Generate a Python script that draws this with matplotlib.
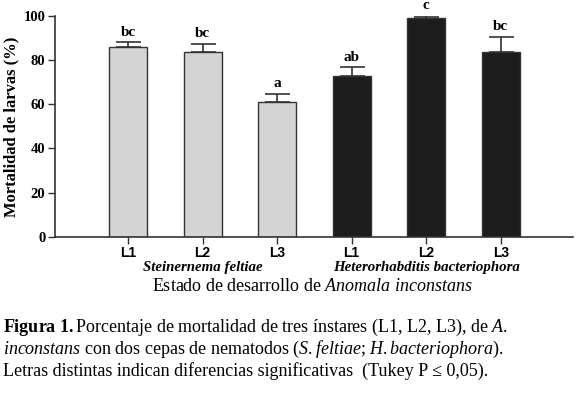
import matplotlib
matplotlib.use("Agg")
import matplotlib.pyplot as plt

plt.rcParams['mathtext.fontset'] = 'custom'
plt.rcParams['mathtext.rm'] = 'Liberation Serif'
plt.rcParams['mathtext.it'] = 'Liberation Serif:italic'
plt.rcParams['mathtext.bf'] = 'Liberation Serif:bold'

stages = ['L1', 'L2', 'L3', 'L1', 'L2', 'L3']
mortality = [86, 83.5, 61, 72.8, 99, 83.5]
errors = [2, 4, 3.7, 4, 1, 7]
letters = ['bc', 'bc', 'a', 'ab', 'c', 'bc']
colors = ['#d4d4d4'] * 3 + ['#1c1c1c'] * 3
groups = ['Steinernema feltiae', 'Heterorhabditis bacteriophora']

fig = plt.figure(figsize=(5.8, 3.95), dpi=100)
ax = fig.add_axes([55 / 580, (395 - 236.7) / 395, (573 - 55) / 580, 220.7 / 395])

x = range(1, 7)
ax.bar(x, mortality, width=0.51, color=colors, edgecolor='#333333', linewidth=1)
ax.errorbar(x, mortality, yerr=[[0] * 6, errors], fmt='none', ecolor='#333333',
            elinewidth=1.2, capsize=9, capthick=1.2)
for xi, m, e, l in zip(x, mortality, errors, letters):
    ax.text(xi, m + e + 3, l, ha='center', va='baseline', fontsize=11,
            fontweight='bold', family='Liberation Serif', clip_on=False)

ax.set_xlim(0.02, 6.97)
ax.set_ylim(0, 100)
ax.set_yticks([0, 20, 40, 60, 80, 100])
ax.set_xticks(list(x))
ax.set_xticklabels(stages, family='Liberation Sans', fontweight='bold', fontsize=10)
for t in ax.get_yticklabels():
    t.set_family('Liberation Serif')
    t.set_fontweight('bold')
    t.set_fontsize(10.5)
ax.tick_params(axis='both', length=5, width=1, color='#333333', pad=2)
for s in ['top', 'right']:
    ax.spines[s].set_visible(False)
for s in ['left', 'bottom']:
    ax.spines[s].set_color('#333333')
    ax.spines[s].set_linewidth(1.2)

ax.set_ylabel('Mortalidad de larvas (%)', family='Liberation Serif',
              fontweight='bold', fontsize=12, labelpad=3)

ax.text(2, -14, groups[0], ha='center', va='center', fontsize=10.7,
        family='Liberation Serif', fontweight='bold', style='italic')
ax.text(5, -14, groups[1], ha='center', va='center', fontsize=10.7,
        family='Liberation Serif', fontweight='bold', style='italic')
ax.text(3.48, -22.5, r'Estado de desarrollo de $\mathit{Anomala}$ $\mathit{inconstans}$',
        ha='center', va='center', fontsize=13, family='Liberation Serif')

caption = ("$\\mathbf{Figura}$ $\\mathbf{1.}$Porcentaje de mortalidad de tres ínstares (L1, L2, L3), de $\\mathit{A.}$\n"
           "$\\mathit{inconstans}$ con dos cepas de nematodos ($\\mathit{S.}$$\\mathit{feltiae}$; "
           "$\\mathit{H.}$$\\mathit{bacteriophora}$).\n"
           "Letras distintas indican diferencias significativas  (Tukey P ≤ 0,05).")
fig.text(3 / 580, 1 - 317 / 395, caption, ha='left', va='top', fontsize=13,
         family='Liberation Serif', linespacing=1.08)

fig.savefig('out.png', dpi=100)
